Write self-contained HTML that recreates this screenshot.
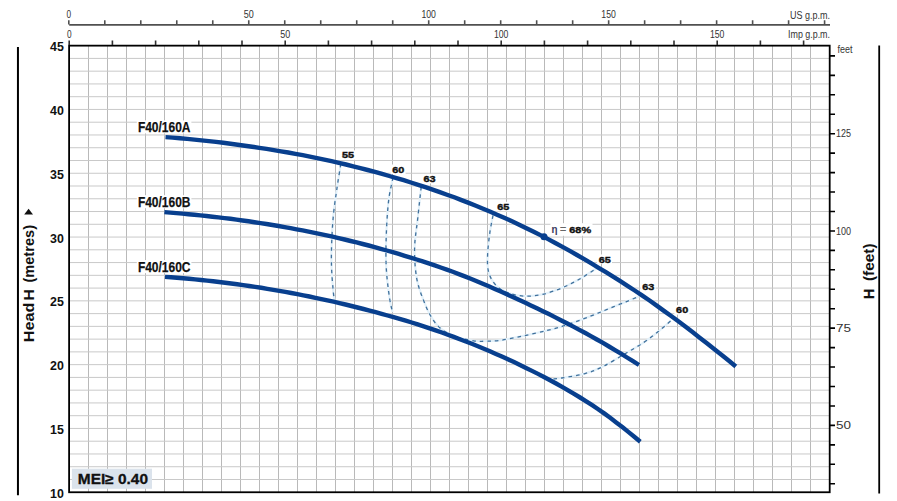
<!DOCTYPE html><html><head><meta charset="utf-8"><style>html,body{margin:0;padding:0;background:#fff;width:897px;height:501px;overflow:hidden}svg{display:block}text{font-family:"Liberation Sans",sans-serif}</style></head><body>
<svg width="897" height="501" viewBox="0 0 897 501">
<rect width="897" height="501" fill="#fff"/>
<path d="M88.50,45.65 V492.25 M107.50,45.65 V492.25 M126.50,45.65 V492.25 M145.50,45.65 V492.25 M164.50,45.65 V492.25 M183.50,45.65 V492.25 M202.50,45.65 V492.25 M221.50,45.65 V492.25 M240.50,45.65 V492.25 M259.50,45.65 V492.25 M278.50,45.65 V492.25 M297.50,45.65 V492.25 M316.50,45.65 V492.25 M335.50,45.65 V492.25 M354.50,45.65 V492.25 M373.50,45.65 V492.25 M392.50,45.65 V492.25 M411.50,45.65 V492.25 M430.50,45.65 V492.25 M449.50,45.65 V492.25 M468.50,45.65 V492.25 M487.50,45.65 V492.25 M506.50,45.65 V492.25 M525.50,45.65 V492.25 M544.50,45.65 V492.25 M563.50,45.65 V492.25 M582.50,45.65 V492.25 M601.50,45.65 V492.25 M620.50,45.65 V492.25 M639.50,45.65 V492.25 M658.50,45.65 V492.25 M677.50,45.65 V492.25 M696.50,45.65 V492.25 M715.50,45.65 V492.25 M734.50,45.65 V492.25 M753.50,45.65 V492.25 M772.50,45.65 V492.25 M791.50,45.65 V492.25 M810.50,45.65 V492.25" stroke="#b9b9b9" stroke-width="1" fill="none"/>
<path d="M69.50,58.41 H829.50 M69.50,71.17 H829.50 M69.50,83.93 H829.50 M69.50,96.69 H829.50 M69.50,109.45 H829.50 M69.50,122.21 H829.50 M69.50,134.97 H829.50 M69.50,147.73 H829.50 M69.50,160.49 H829.50 M69.50,173.25 H829.50 M69.50,186.01 H829.50 M69.50,198.77 H829.50 M69.50,211.53 H829.50 M69.50,224.29 H829.50 M69.50,237.05 H829.50 M69.50,249.81 H829.50 M69.50,262.57 H829.50 M69.50,275.33 H829.50 M69.50,288.09 H829.50 M69.50,300.85 H829.50 M69.50,313.61 H829.50 M69.50,326.37 H829.50 M69.50,339.13 H829.50 M69.50,351.89 H829.50 M69.50,364.65 H829.50 M69.50,377.41 H829.50 M69.50,390.17 H829.50 M69.50,402.93 H829.50 M69.50,415.69 H829.50 M69.50,428.45 H829.50 M69.50,441.21 H829.50 M69.50,453.97 H829.50 M69.50,466.73 H829.50 M69.50,479.49 H829.50" stroke="#c9c9c9" stroke-width="1" fill="none"/>
<rect x="340.3" y="150.3" width="15" height="9.5" fill="#fff"/>
<rect x="390.6" y="164.5" width="15" height="9.5" fill="#fff"/>
<rect x="421.8" y="174.0" width="15" height="9.5" fill="#fff"/>
<rect x="495.6" y="201.8" width="15" height="9.5" fill="#fff"/>
<rect x="597.0" y="254.4" width="15" height="9.5" fill="#fff"/>
<rect x="640.6" y="281.4" width="15" height="9.5" fill="#fff"/>
<rect x="674.4" y="305.1" width="15" height="9.5" fill="#fff"/>
<rect x="550.5" y="223.2" width="42" height="12.6" fill="#fff"/>
<rect x="136.8" y="120.4" width="54.6" height="13" fill="#fff"/>
<rect x="136.8" y="195.2" width="54.6" height="13" fill="#fff"/>
<rect x="136.8" y="260.1" width="54.6" height="13" fill="#fff"/>
<rect x="69.1" y="45.65" width="760.6" height="446.60" fill="none" stroke="#000" stroke-width="1.8"/>
<path d="M69.2,24.9 H830" stroke="#505050" stroke-width="1.8" fill="none"/>
<path d="M68.80,20.2 V24.5 M104.79,20.2 V24.5 M140.78,20.2 V24.5 M176.77,20.2 V24.5 M212.76,20.2 V24.5 M248.75,20.2 V24.5 M284.74,20.2 V24.5 M320.73,20.2 V24.5 M356.72,20.2 V24.5 M392.71,20.2 V24.5 M428.70,20.2 V24.5 M464.69,20.2 V24.5 M500.68,20.2 V24.5 M536.67,20.2 V24.5 M572.66,20.2 V24.5 M608.65,20.2 V24.5 M644.64,20.2 V24.5 M680.63,20.2 V24.5 M716.62,20.2 V24.5 M752.61,20.2 V24.5 M788.60,20.2 V24.5 M824.59,20.2 V24.5" stroke="#505050" stroke-width="1.6" fill="none"/>
<path d="M69.20,40.4 V45 M112.40,40.4 V45 M155.60,40.4 V45 M198.80,40.4 V45 M242.00,40.4 V45 M285.20,40.4 V45 M328.40,40.4 V45 M371.60,40.4 V45 M414.80,40.4 V45 M458.00,40.4 V45 M501.20,40.4 V45 M544.40,40.4 V45 M587.60,40.4 V45 M630.80,40.4 V45 M674.00,40.4 V45 M717.20,40.4 V45 M760.40,40.4 V45 M803.60,40.4 V45" stroke="#303030" stroke-width="1.6" fill="none"/>
<text x="68.9" y="17.8" font-size="10.3" fill="#333" text-anchor="middle" textLength="4.6" lengthAdjust="spacingAndGlyphs">0</text>
<text x="248.8" y="17.8" font-size="10.3" fill="#333" text-anchor="middle" textLength="10.0" lengthAdjust="spacingAndGlyphs">50</text>
<text x="428.7" y="17.8" font-size="10.3" fill="#333" text-anchor="middle" textLength="14.5" lengthAdjust="spacingAndGlyphs">100</text>
<text x="608.6" y="17.8" font-size="10.3" fill="#333" text-anchor="middle" textLength="14.5" lengthAdjust="spacingAndGlyphs">150</text>
<text x="69.2" y="37.8" font-size="10.3" fill="#333" text-anchor="middle" textLength="4.6" lengthAdjust="spacingAndGlyphs">0</text>
<text x="285.2" y="37.8" font-size="10.3" fill="#333" text-anchor="middle" textLength="10.0" lengthAdjust="spacingAndGlyphs">50</text>
<text x="501.2" y="37.8" font-size="10.3" fill="#333" text-anchor="middle" textLength="14.5" lengthAdjust="spacingAndGlyphs">100</text>
<text x="717.2" y="37.8" font-size="10.3" fill="#333" text-anchor="middle" textLength="14.5" lengthAdjust="spacingAndGlyphs">150</text>
<text x="830" y="18.8" font-size="10.3" fill="#333" text-anchor="end" textLength="40" lengthAdjust="spacingAndGlyphs">US g.p.m.</text>
<text x="830" y="37.8" font-size="10.3" fill="#333" text-anchor="end" textLength="42" lengthAdjust="spacingAndGlyphs">Imp g.p.m.</text>
<text x="63.9" y="497.8" font-size="13.4" font-weight="bold" fill="#111" text-anchor="end" textLength="13.8" lengthAdjust="spacingAndGlyphs">10</text>
<text x="63.9" y="434.1" font-size="13.4" font-weight="bold" fill="#111" text-anchor="end" textLength="13.8" lengthAdjust="spacingAndGlyphs">15</text>
<text x="63.9" y="370.2" font-size="13.4" font-weight="bold" fill="#111" text-anchor="end" textLength="13.8" lengthAdjust="spacingAndGlyphs">20</text>
<text x="63.9" y="306.4" font-size="13.4" font-weight="bold" fill="#111" text-anchor="end" textLength="13.8" lengthAdjust="spacingAndGlyphs">25</text>
<text x="63.9" y="242.7" font-size="13.4" font-weight="bold" fill="#111" text-anchor="end" textLength="13.8" lengthAdjust="spacingAndGlyphs">30</text>
<text x="63.9" y="178.8" font-size="13.4" font-weight="bold" fill="#111" text-anchor="end" textLength="13.8" lengthAdjust="spacingAndGlyphs">35</text>
<text x="63.9" y="115.0" font-size="13.4" font-weight="bold" fill="#111" text-anchor="end" textLength="13.8" lengthAdjust="spacingAndGlyphs">40</text>
<text x="63.9" y="51.2" font-size="13.4" font-weight="bold" fill="#111" text-anchor="end" textLength="13.8" lengthAdjust="spacingAndGlyphs">45</text>
<path d="M829.6,483.73 H835 M829.6,464.28 H835 M829.6,444.83 H835 M829.6,425.39 H835 M829.6,405.94 H835 M829.6,386.50 H835 M829.6,367.05 H835 M829.6,347.60 H835 M829.6,328.16 H835 M829.6,308.71 H835 M829.6,289.26 H835 M829.6,269.82 H835 M829.6,250.37 H835 M829.6,230.93 H835 M829.6,211.48 H835 M829.6,192.03 H835 M829.6,172.59 H835 M829.6,153.14 H835 M829.6,133.69 H835 M829.6,114.25 H835 M829.6,94.80 H835 M829.6,75.36 H835 M829.6,55.91 H835" stroke="#000" stroke-width="1.6" fill="none"/>
<text x="836" y="137.3" font-size="10.3" fill="#333" textLength="15" lengthAdjust="spacingAndGlyphs">125</text>
<text x="836" y="234.5" font-size="10.3" fill="#333" textLength="15" lengthAdjust="spacingAndGlyphs">100</text>
<text x="836" y="331.8" font-size="10.3" fill="#333" textLength="15" lengthAdjust="spacingAndGlyphs">75</text>
<text x="836" y="429.0" font-size="10.3" fill="#333" textLength="15" lengthAdjust="spacingAndGlyphs">50</text>
<text x="837.6" y="53.2" font-size="10.3" fill="#333" textLength="15" lengthAdjust="spacingAndGlyphs">feet</text>
<path d="M17.95,46.9 V495.2" stroke="#000" stroke-width="2" fill="none"/>
<path d="M879.2,45.5 V493.5" stroke="#000" stroke-width="1.8" fill="none"/>
<text transform="translate(33.7,342.3) rotate(-90)" font-size="15.5" font-weight="bold" fill="#111" textLength="39.6" lengthAdjust="spacingAndGlyphs">Head</text>
<text transform="translate(33.7,300.6) rotate(-90)" font-size="15.5" font-weight="bold" fill="#111">H</text>
<text transform="translate(33.7,282.6) rotate(-90)" font-size="15.5" font-weight="bold" fill="#111" textLength="57.6" lengthAdjust="spacingAndGlyphs">(metres)</text>
<path d="M24.2,214.6 L28.6,208.8 L33,214.6 Z" fill="#111"/>
<text transform="translate(874,299) rotate(-90)" font-size="14" font-weight="bold" fill="#111" stroke="#111" stroke-width="0.3">H</text>
<text transform="translate(874,281) rotate(-90)" font-size="14" font-weight="bold" fill="#111" textLength="37.6" lengthAdjust="spacingAndGlyphs">(feet)</text>
<path d="M340.8,164.0 C340.2,168.0 338.2,179.5 337.0,188.0 C335.8,196.5 334.3,205.5 333.4,215.0 C332.5,224.5 331.9,236.0 331.6,245.0 C331.3,254.0 331.3,260.9 331.6,268.8 C331.9,276.8 332.9,287.5 333.4,292.7 C333.9,297.9 334.4,298.8 334.6,300.0" stroke="#e3f1fa" stroke-width="2.2" fill="none"/>
<path d="M393.0,177.5 C392.3,181.4 389.7,191.3 388.6,200.8 C387.5,210.3 386.7,223.4 386.3,234.7 C385.9,246.0 385.7,257.9 386.3,268.6 C386.9,279.3 388.6,291.8 389.7,299.0 C390.8,306.2 392.1,309.8 392.6,312.0" stroke="#e3f1fa" stroke-width="2.2" fill="none"/>
<path d="M421.2,187.0 C420.6,192.1 418.9,207.6 417.8,217.8 C416.7,228.0 414.8,237.8 414.6,248.0 C414.4,258.2 415.1,269.5 416.8,278.8 C418.5,288.1 422.3,297.1 424.9,303.7 C427.5,310.3 429.6,314.4 432.3,318.6 C435.0,322.8 437.1,325.7 440.9,328.7 C444.7,331.7 449.5,334.5 455.0,336.5 C460.5,338.5 468.8,340.1 473.7,340.9 C478.6,341.7 480.2,341.3 484.6,341.2 C489.0,341.1 493.7,341.3 500.2,340.4 C506.7,339.5 515.8,337.4 523.6,335.8 C531.4,334.2 540.5,332.1 547.0,330.5 C553.5,328.9 555.5,328.6 562.7,326.2 C569.9,323.8 582.5,319.3 590.0,316.4 C597.5,313.5 602.0,311.4 608.0,309.0 C614.0,306.6 620.6,303.9 625.9,301.8 C631.1,299.7 637.2,297.1 639.5,296.2" stroke="#e3f1fa" stroke-width="2.2" fill="none"/>
<path d="M493.0,215.4 C492.5,218.3 490.7,226.3 489.8,232.9 C488.9,239.5 487.8,248.3 487.6,254.9 C487.4,261.5 487.2,267.3 488.7,272.4 C490.1,277.5 492.8,282.1 496.3,285.6 C499.8,289.1 504.7,291.6 509.5,293.3 C514.3,295.1 519.4,295.9 524.9,296.1 C530.4,296.3 536.2,295.8 542.4,294.4 C548.6,293.0 556.0,290.4 562.2,287.8 C568.4,285.2 573.9,282.3 579.7,279.0 C585.5,275.7 594.1,269.8 597.0,268.0" stroke="#e3f1fa" stroke-width="2.2" fill="none"/>
<path d="M553.5,378.9 C554.9,378.8 556.4,378.9 561.6,378.0 C566.8,377.1 578.0,375.5 584.9,373.6 C591.8,371.7 596.1,370.0 602.9,366.6 C609.7,363.2 619.1,357.2 625.9,353.2 C632.7,349.2 638.5,346.0 643.9,342.4 C649.3,338.8 653.8,335.2 658.3,331.6 C662.8,328.0 668.9,322.4 671.0,320.6" stroke="#e3f1fa" stroke-width="2.2" fill="none"/>
<path d="M340.8,164.0 C340.2,168.0 338.2,179.5 337.0,188.0 C335.8,196.5 334.3,205.5 333.4,215.0 C332.5,224.5 331.9,236.0 331.6,245.0 C331.3,254.0 331.3,260.9 331.6,268.8 C331.9,276.8 332.9,287.5 333.4,292.7 C333.9,297.9 334.4,298.8 334.6,300.0" stroke="#41719c" stroke-width="1.3" fill="none" stroke-dasharray="3.6 4"/>
<path d="M393.0,177.5 C392.3,181.4 389.7,191.3 388.6,200.8 C387.5,210.3 386.7,223.4 386.3,234.7 C385.9,246.0 385.7,257.9 386.3,268.6 C386.9,279.3 388.6,291.8 389.7,299.0 C390.8,306.2 392.1,309.8 392.6,312.0" stroke="#41719c" stroke-width="1.3" fill="none" stroke-dasharray="3.6 4"/>
<path d="M421.2,187.0 C420.6,192.1 418.9,207.6 417.8,217.8 C416.7,228.0 414.8,237.8 414.6,248.0 C414.4,258.2 415.1,269.5 416.8,278.8 C418.5,288.1 422.3,297.1 424.9,303.7 C427.5,310.3 429.6,314.4 432.3,318.6 C435.0,322.8 437.1,325.7 440.9,328.7 C444.7,331.7 449.5,334.5 455.0,336.5 C460.5,338.5 468.8,340.1 473.7,340.9 C478.6,341.7 480.2,341.3 484.6,341.2 C489.0,341.1 493.7,341.3 500.2,340.4 C506.7,339.5 515.8,337.4 523.6,335.8 C531.4,334.2 540.5,332.1 547.0,330.5 C553.5,328.9 555.5,328.6 562.7,326.2 C569.9,323.8 582.5,319.3 590.0,316.4 C597.5,313.5 602.0,311.4 608.0,309.0 C614.0,306.6 620.6,303.9 625.9,301.8 C631.1,299.7 637.2,297.1 639.5,296.2" stroke="#41719c" stroke-width="1.3" fill="none" stroke-dasharray="3.6 4"/>
<path d="M493.0,215.4 C492.5,218.3 490.7,226.3 489.8,232.9 C488.9,239.5 487.8,248.3 487.6,254.9 C487.4,261.5 487.2,267.3 488.7,272.4 C490.1,277.5 492.8,282.1 496.3,285.6 C499.8,289.1 504.7,291.6 509.5,293.3 C514.3,295.1 519.4,295.9 524.9,296.1 C530.4,296.3 536.2,295.8 542.4,294.4 C548.6,293.0 556.0,290.4 562.2,287.8 C568.4,285.2 573.9,282.3 579.7,279.0 C585.5,275.7 594.1,269.8 597.0,268.0" stroke="#41719c" stroke-width="1.3" fill="none" stroke-dasharray="3.6 4"/>
<path d="M553.5,378.9 C554.9,378.8 556.4,378.9 561.6,378.0 C566.8,377.1 578.0,375.5 584.9,373.6 C591.8,371.7 596.1,370.0 602.9,366.6 C609.7,363.2 619.1,357.2 625.9,353.2 C632.7,349.2 638.5,346.0 643.9,342.4 C649.3,338.8 653.8,335.2 658.3,331.6 C662.8,328.0 668.9,322.4 671.0,320.6" stroke="#41719c" stroke-width="1.3" fill="none" stroke-dasharray="3.6 4"/>
<path d="M165.5,137.1 L172.7,137.6 L179.9,138.3 L187.2,138.9 L194.4,139.6 L201.6,140.4 L208.8,141.1 L216.0,141.9 L223.3,142.8 L230.5,143.7 L237.7,144.7 L244.9,145.7 L252.1,146.7 L259.3,147.8 L266.6,148.9 L273.8,150.1 L281.0,151.3 L288.2,152.5 L295.4,153.9 L302.7,155.2 L309.9,156.6 L317.1,158.1 L324.3,159.6 L331.5,161.2 L338.8,162.9 L346.0,164.5 L353.2,166.3 L360.4,168.1 L367.6,170.0 L374.9,171.9 L382.1,173.9 L389.3,176.0 L396.5,178.1 L403.7,180.2 L410.9,182.5 L418.2,184.8 L425.4,187.2 L432.6,189.6 L439.8,192.1 L447.0,194.7 L454.3,197.3 L461.5,200.1 L468.7,202.9 L475.9,205.8 L483.1,208.7 L490.4,211.8 L497.6,214.9 L504.8,218.1 L512.0,221.3 L519.2,224.7 L526.4,228.2 L533.7,231.7 L540.9,235.4 L548.1,239.1 L555.3,243.0 L562.5,246.9 L569.8,250.9 L577.0,255.0 L584.2,259.2 L591.4,263.4 L598.6,267.8 L605.9,272.2 L613.1,276.6 L620.3,281.2 L627.5,285.8 L634.7,290.5 L642.0,295.4 L649.2,300.3 L656.4,305.4 L663.6,310.6 L670.8,315.8 L678.0,321.1 L685.3,326.6 L692.5,332.1 L699.7,337.7 L706.9,343.3 L714.1,349.0 L721.4,354.7 L728.6,360.5 L735.8,366.5" stroke="#083f8e" stroke-width="4.4" fill="none" stroke-linecap="butt"/>
<path d="M164.4,212.1 L170.4,212.6 L176.4,213.1 L182.4,213.6 L188.4,214.2 L194.4,214.8 L200.4,215.4 L206.5,216.0 L212.5,216.7 L218.5,217.4 L224.5,218.1 L230.5,218.8 L236.5,219.6 L242.5,220.5 L248.5,221.3 L254.5,222.2 L260.5,223.1 L266.5,224.0 L272.5,225.0 L278.5,226.0 L284.6,227.1 L290.6,228.2 L296.6,229.3 L302.6,230.4 L308.6,231.6 L314.6,232.8 L320.6,234.1 L326.6,235.4 L332.6,236.7 L338.6,238.1 L344.6,239.5 L350.6,241.0 L356.6,242.4 L362.7,244.0 L368.7,245.5 L374.7,247.1 L380.7,248.8 L386.7,250.5 L392.7,252.2 L398.7,253.9 L404.7,255.8 L410.7,257.6 L416.7,259.5 L422.7,261.4 L428.7,263.4 L434.7,265.4 L440.7,267.5 L446.8,269.6 L452.8,271.8 L458.8,274.1 L464.8,276.4 L470.8,278.8 L476.8,281.2 L482.8,283.8 L488.8,286.3 L494.8,288.9 L500.8,291.6 L506.8,294.3 L512.8,297.0 L518.8,299.8 L524.9,302.6 L530.9,305.4 L536.9,308.3 L542.9,311.2 L548.9,314.1 L554.9,317.1 L560.9,320.2 L566.9,323.2 L572.9,326.4 L578.9,329.6 L584.9,332.8 L590.9,336.1 L596.9,339.5 L603.0,342.9 L609.0,346.5 L615.0,350.1 L621.0,353.7 L627.0,357.5 L633.0,361.2 L639.0,365.0" stroke="#083f8e" stroke-width="4.4" fill="none" stroke-linecap="butt"/>
<path d="M165.0,276.9 L171.0,277.3 L177.0,277.8 L183.0,278.3 L189.1,278.8 L195.1,279.4 L201.1,280.0 L207.1,280.6 L213.1,281.3 L219.1,282.0 L225.2,282.7 L231.2,283.5 L237.2,284.3 L243.2,285.1 L249.2,286.0 L255.2,286.9 L261.3,287.8 L267.3,288.8 L273.3,289.8 L279.3,290.8 L285.3,291.9 L291.3,293.0 L297.4,294.2 L303.4,295.3 L309.4,296.5 L315.4,297.8 L321.4,299.1 L327.4,300.4 L333.5,301.7 L339.5,303.1 L345.5,304.5 L351.5,306.0 L357.5,307.5 L363.5,309.0 L369.6,310.6 L375.6,312.2 L381.6,313.8 L387.6,315.5 L393.6,317.2 L399.6,318.9 L405.7,320.7 L411.7,322.5 L417.7,324.4 L423.7,326.3 L429.7,328.3 L435.7,330.4 L441.8,332.5 L447.8,334.7 L453.8,336.9 L459.8,339.2 L465.8,341.5 L471.8,343.8 L477.9,346.2 L483.9,348.7 L489.9,351.3 L495.9,353.9 L501.9,356.6 L507.9,359.3 L514.0,362.1 L520.0,365.0 L526.0,367.9 L532.0,370.9 L538.0,373.9 L544.0,377.0 L550.1,380.2 L556.1,383.5 L562.1,386.9 L568.1,390.3 L574.1,393.9 L580.1,397.5 L586.2,401.3 L592.2,405.2 L598.2,409.2 L604.2,413.4 L610.2,417.8 L616.2,422.4 L622.3,427.1 L628.3,431.9 L634.3,436.8 L640.3,441.8" stroke="#083f8e" stroke-width="4.4" fill="none" stroke-linecap="butt"/>
<circle cx="544" cy="236.8" r="3.5" fill="#083f8e"/>
<text x="137.9" y="131.9" font-size="14.9" font-weight="bold" fill="#111" stroke="#111" stroke-width="0.25" textLength="52.6" lengthAdjust="spacingAndGlyphs">F40/160A</text>
<text x="137.9" y="206.7" font-size="14.9" font-weight="bold" fill="#111" stroke="#111" stroke-width="0.25" textLength="52.6" lengthAdjust="spacingAndGlyphs">F40/160B</text>
<text x="137.9" y="271.6" font-size="14.9" font-weight="bold" fill="#111" stroke="#111" stroke-width="0.25" textLength="52.6" lengthAdjust="spacingAndGlyphs">F40/160C</text>
<text x="342.0" y="158.4" font-size="9.6" font-weight="bold" fill="#111" stroke="#111" stroke-width="0.4" textLength="12.1" lengthAdjust="spacingAndGlyphs">55</text>
<text x="392.3" y="172.6" font-size="9.6" font-weight="bold" fill="#111" stroke="#111" stroke-width="0.4" textLength="12.1" lengthAdjust="spacingAndGlyphs">60</text>
<text x="423.5" y="182.1" font-size="9.6" font-weight="bold" fill="#111" stroke="#111" stroke-width="0.4" textLength="12.1" lengthAdjust="spacingAndGlyphs">63</text>
<text x="497.3" y="209.9" font-size="9.6" font-weight="bold" fill="#111" stroke="#111" stroke-width="0.4" textLength="12.1" lengthAdjust="spacingAndGlyphs">65</text>
<text x="598.7" y="262.5" font-size="9.6" font-weight="bold" fill="#111" stroke="#111" stroke-width="0.4" textLength="12.1" lengthAdjust="spacingAndGlyphs">65</text>
<text x="642.3" y="289.5" font-size="9.6" font-weight="bold" fill="#111" stroke="#111" stroke-width="0.4" textLength="12.1" lengthAdjust="spacingAndGlyphs">63</text>
<text x="676.1" y="313.2" font-size="9.6" font-weight="bold" fill="#111" stroke="#111" stroke-width="0.4" textLength="12.1" lengthAdjust="spacingAndGlyphs">60</text>
<text x="551.4" y="233.2" font-size="11.5" font-weight="bold" fill="#3a3a5e" textLength="6" lengthAdjust="spacingAndGlyphs">η</text>
<text x="559.9" y="233.4" font-size="11" fill="#666" textLength="6.2" lengthAdjust="spacingAndGlyphs" stroke="#666" stroke-width="0.3">=</text>
<text x="569.3" y="233.3" font-size="9.6" font-weight="bold" fill="#111" stroke="#111" stroke-width="0.4" textLength="21.8" lengthAdjust="spacingAndGlyphs">68%</text>
<rect x="71.9" y="468.7" width="80.1" height="20.1" fill="#dbe3ec"/>
<text x="77.8" y="484" font-size="14.6" font-weight="bold" fill="#111" stroke="#111" stroke-width="0.3" textLength="70.2" lengthAdjust="spacingAndGlyphs">MEI≥ 0.40</text>
</svg></body></html>
